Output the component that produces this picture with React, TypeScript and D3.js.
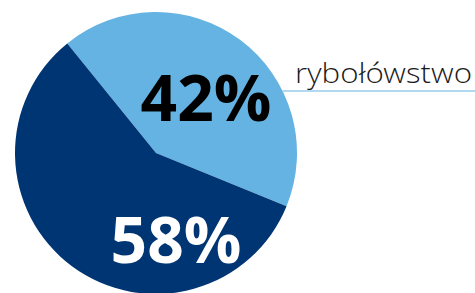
import React, { useEffect, useRef } from "react";
import * as d3 from "d3";

const labels = ["rybołówstwo", "inne"];
const values = [42, 58];
const colors = ["#65b3e2", "#003574"];
const textColors = ["#000000", "#ffffff"];

export default function App() {
  const ref = useRef<SVGSVGElement>(null);
  useEffect(() => {
    const node = ref.current;
    if (!node) return;
    const w = 475, h = 293;
    const cx = 156, cy = 153, r = 141;
    const svg = d3.select(node);
    svg.attr("viewBox", `0 0 ${w} ${h}`).selectAll("*").remove();

    const start = (-39 * Math.PI) / 180;
    const pie = d3.pie<number>().sort(null).startAngle(start).endAngle(start + 2 * Math.PI);
    const arcs = pie(values);
    const arc = d3.arc<d3.PieArcDatum<number>>().innerRadius(0).outerRadius(r);

    const g = svg.append("g").attr("transform", `translate(${cx},${cy})`);
    g.selectAll("path").data(arcs).enter().append("path")
      .attr("d", arc)
      .attr("fill", (_d, i) => colors[i]);

    // percentage labels
    const pos = [[50, -32], [20, 110]];
    g.selectAll("text.pct").data(arcs).enter().append("text")
      .attr("class", "pct")
      .attr("x", (_d, i) => pos[i][0])
      .attr("y", (_d, i) => pos[i][1])
      .attr("text-anchor", "middle")
      .attr("font-family", "'Open Sans', sans-serif")
      .attr("font-weight", 700)
      .attr("font-size", 64)
      .attr("fill", (_d, i) => textColors[i])
      .text((d) => `${d.data}%`);

    // callout for light slice
    const ly = 91;
    const lx = cx + Math.sqrt(r * r - (ly - cy) * (ly - cy));
    svg.append("line").attr("x1", lx).attr("x2", w).attr("y1", ly).attr("y2", ly)
      .attr("stroke", colors[0]).attr("stroke-width", 1);
    svg.append("text").attr("x", 295).attr("y", 83)
      .attr("textLength", 177).attr("lengthAdjust", "spacingAndGlyphs")
      .attr("font-family", "'Open Sans Light', 'Open Sans', sans-serif").attr("font-weight", 300)
      .attr("font-size", 27.5).attr("fill", "#1a1a1a").text(labels[0]);
  }, []);
  return (
    <svg ref={ref} width={475} height={293}
      style={{ position: "absolute", left: 0, top: 0, display: "block" }} />
  );
}
